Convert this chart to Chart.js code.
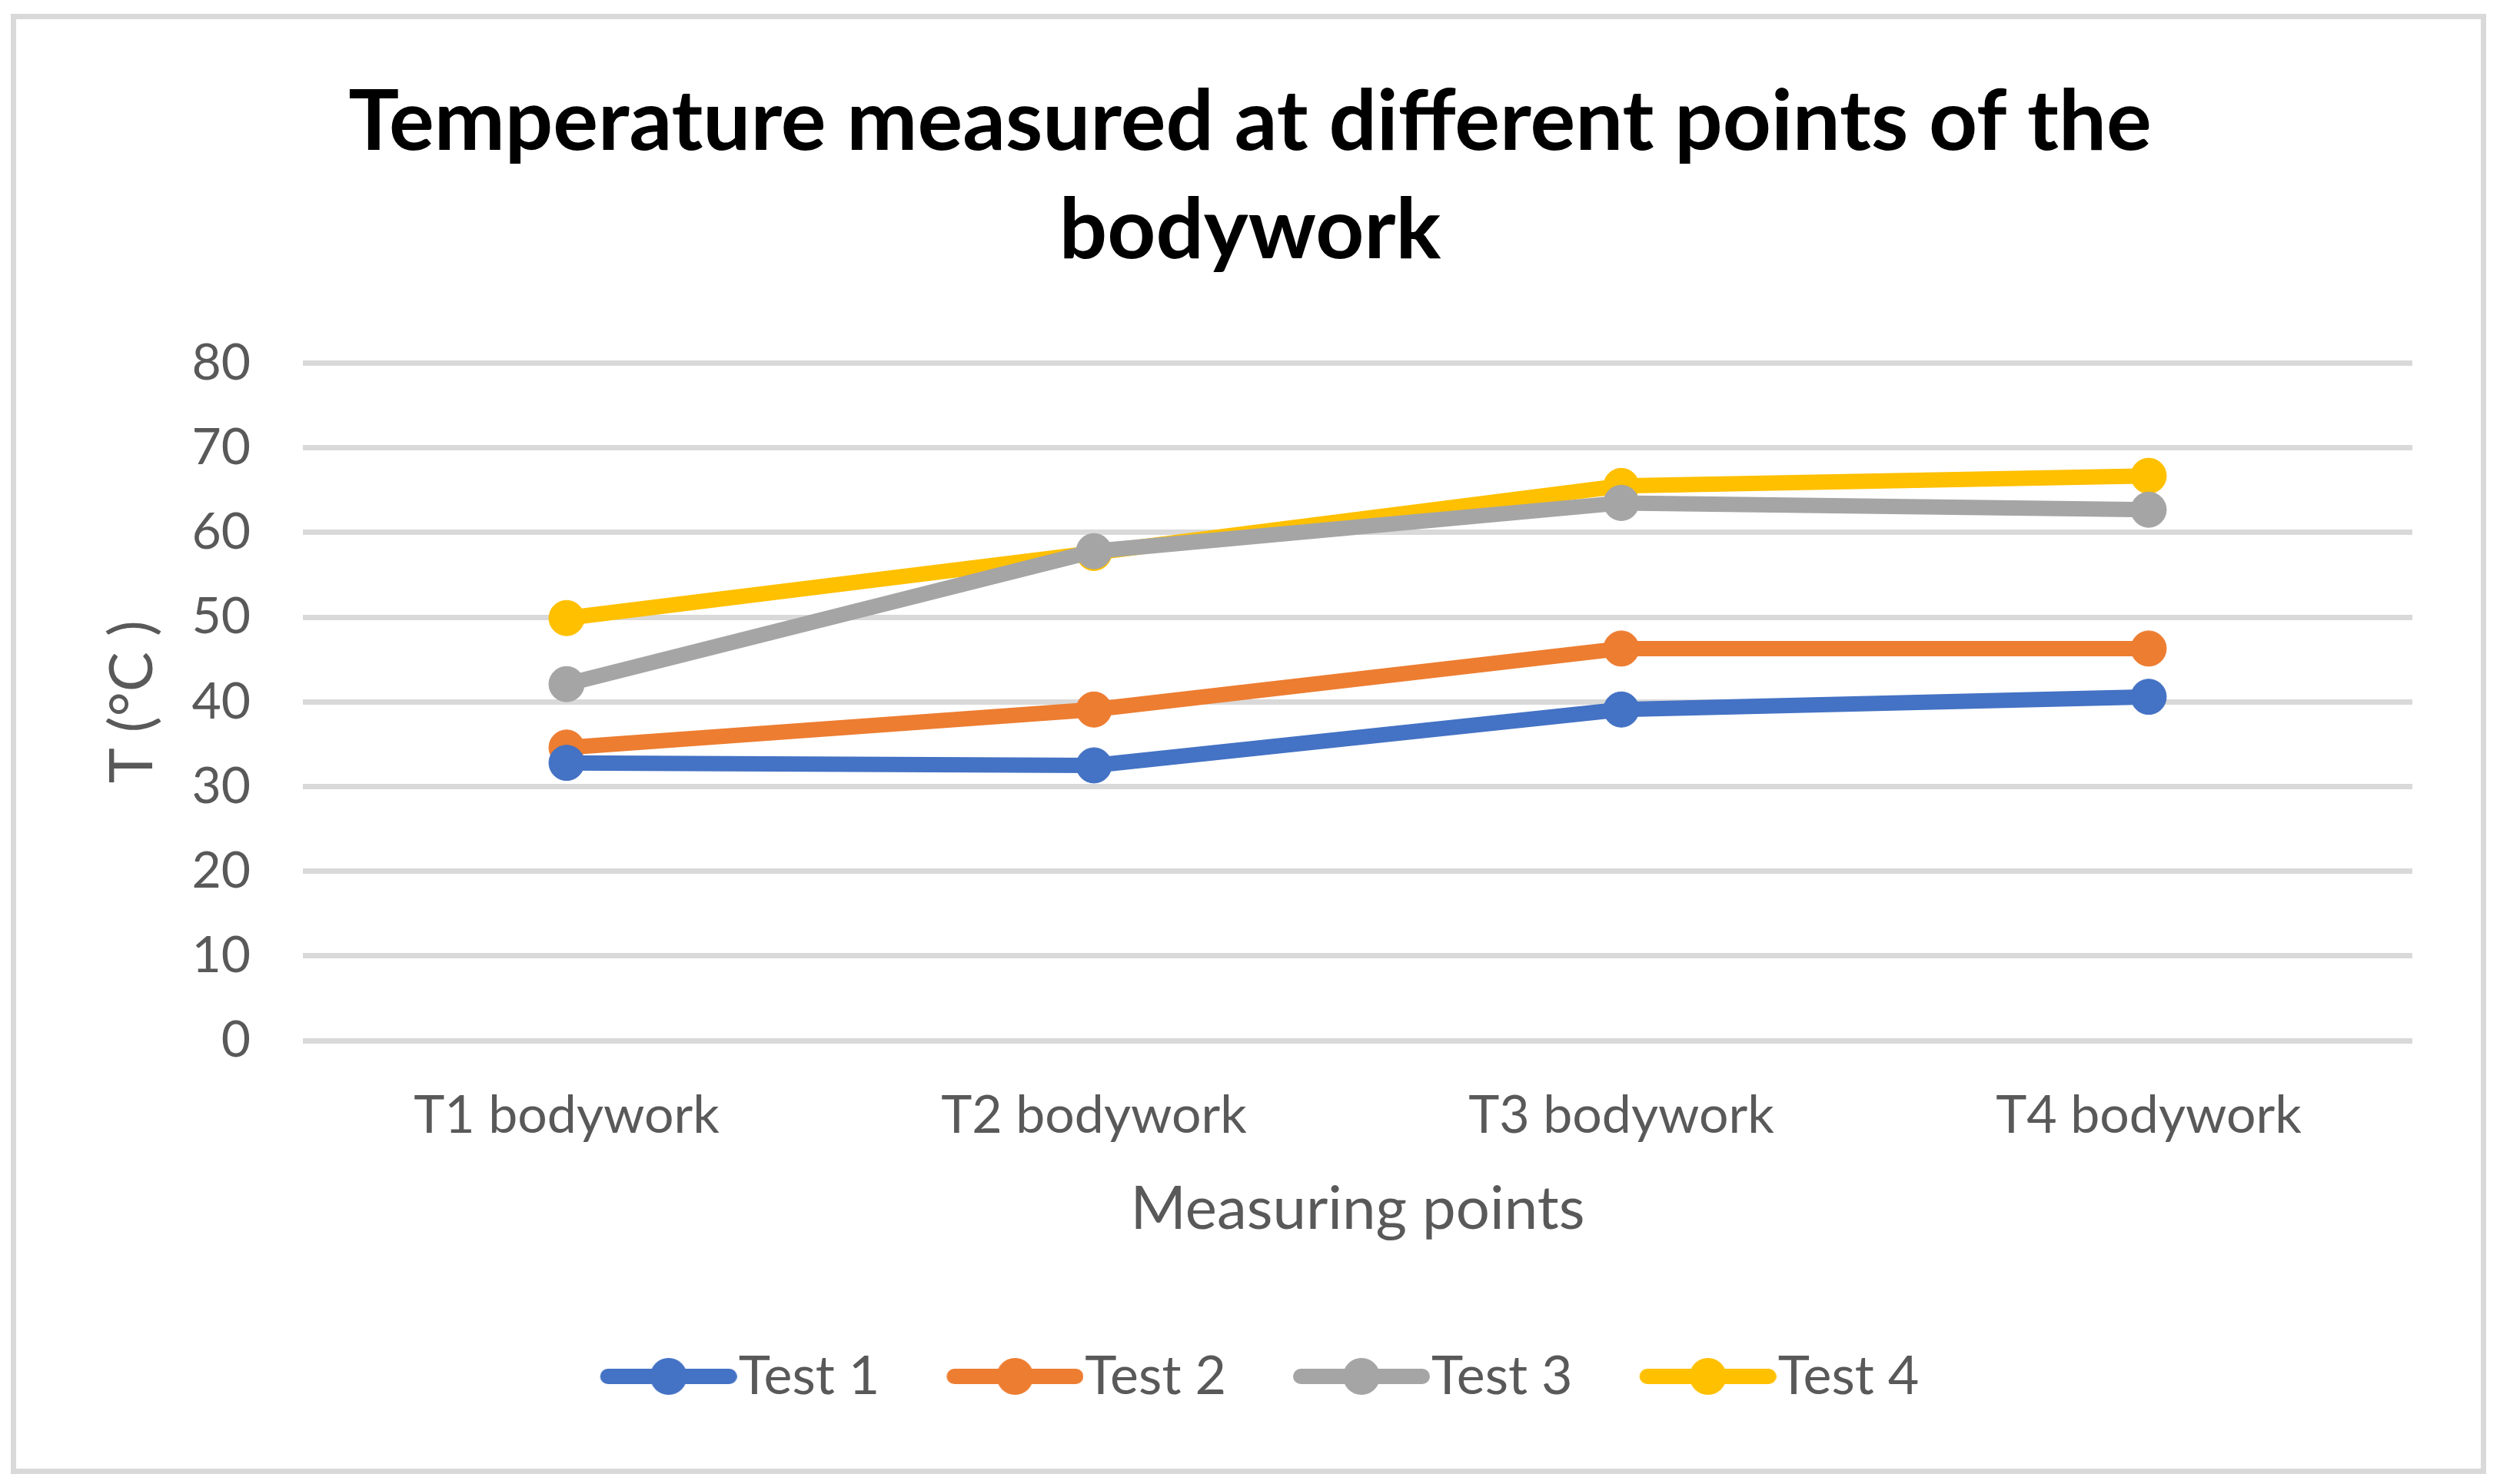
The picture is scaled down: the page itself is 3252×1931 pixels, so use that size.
<!DOCTYPE html>
<html>
<head>
<meta charset="utf-8">
<script src="https://cdn.jsdelivr.net/npm/chart.js@4"></script>
<style>
  html, body { margin: 0; padding: 0; background: #fff; }
  #wrap { position: relative; width: 3252px; height: 1931px; }
  #frame { position: absolute; left: 14px; top: 18px; width: 3206px; height: 1886px; border: 7px solid #d9d9d9; }
  #wrap canvas { position: absolute; left: 0; top: 0; }
</style>
</head>
<body>
<div id="wrap">
  <div id="frame"></div>
  <canvas id="mycanvas" width="3252" height="1931"></canvas>
</div>
<script>
// data
var points = ['T1 bodywork', 'T2 bodywork', 'T3 bodywork', 'T4 bodywork'];
var test1 = [32.8, 32.5, 39.1, 40.6];
var test2 = [34.6, 39.1, 46.3, 46.3];
var test3 = [42.1, 57.8, 63.5, 62.7];
var test4 = [49.9, 57.6, 65.5, 66.7];
var yTicks = [0, 10, 20, 30, 40, 50, 60, 70, 80];

var colors = ['#4472C4', '#ED7D31', '#A5A5A5', '#FFC000'];
var names = ['Test 1', 'Test 2', 'Test 3', 'Test 4'];
var series = [test1, test2, test3, test4];

var textGrey = '#595959';
var font = "Lato, 'Open Sans', sans-serif";

// legend symbol: line with a dot in the middle (blank strip on the left so it sits right)
function legendIcon(color) {
  var c = document.createElement('canvas');
  c.width = 236;
  c.height = 50;
  var g = c.getContext('2d');
  g.strokeStyle = color;
  g.lineWidth = 20;
  g.lineCap = 'round';
  g.beginPath();
  g.moveTo(68, 25);
  g.lineTo(226, 25);
  g.stroke();
  g.fillStyle = color;
  g.beginPath();
  g.arc(147, 25, 24, 0, Math.PI * 2);
  g.fill();
  return c;
}

var datasets = [];
for (var i = 0; i < series.length; i++) {
  datasets.push({
    label: names[i],
    data: series[i],
    borderColor: colors[i],
    backgroundColor: colors[i],
    borderWidth: 20,
    pointRadius: 23,
    pointHoverRadius: 23,
    pointBorderWidth: 1,
    pointBorderColor: colors[i],
    pointBackgroundColor: colors[i],
    tension: 0,
    fill: false
  });
}

var ctx = document.getElementById('mycanvas');
var LineGraph = new Chart(ctx, {
  type: 'line',
  data: { labels: points, datasets: datasets },
  options: {
    responsive: false,
    devicePixelRatio: 1,
    animation: false,
    events: [],
    layout: { padding: { left: 114, right: 114, top: 0, bottom: 95 } },
    plugins: {
      title: {
        display: true,
        text: ['Temperature measured at different points of the', 'bodywork'],
        color: '#000',
        font: { family: font, size: 110, weight: 'bold', lineHeight: 1.28 },
        padding: { top: 89, bottom: 102 }
      },
      legend: {
        position: 'bottom',
        labels: {
          usePointStyle: true,
          pointStyleWidth: 170,
          boxHeight: 50,
          padding: 62,
          color: textGrey,
          font: { family: font, size: 70 },
          generateLabels: function(chart) {
            return chart.data.datasets.map(function(ds, k) {
              return {
                text: ds.label,
                fillStyle: ds.borderColor,
                strokeStyle: ds.borderColor,
                fontColor: textGrey,
                lineWidth: 0,
                pointStyle: legendIcon(ds.borderColor),
                datasetIndex: k,
                hidden: false
              };
            });
          }
        }
      },
      tooltip: { enabled: false }
    },
    scales: {
      x: {
        offset: true,
        grid: { display: false, drawTicks: false },
        border: { display: false },
        ticks: { color: textGrey, font: { family: font, size: 68 }, padding: 57 },
        title: {
          display: true,
          text: 'Measuring points',
          color: textGrey,
          font: { family: font, size: 78 },
          padding: { top: 0, bottom: 73 }
        },
        afterFit: function(scale) { scale.height = 340; }
      },
      y: {
        min: 0,
        max: 80,
        afterBuildTicks: function(scale) {
          scale.ticks = yTicks.map(function(v) { return { value: v }; });
        },
        grid: { color: '#D9D9D9', lineWidth: 7, drawTicks: false },
        border: { display: false },
        ticks: { color: textGrey, font: { family: font, size: 66 }, padding: 68 },
        title: {
          display: true,
          text: 'T (°C )',
          color: textGrey,
          font: { family: font, size: 78 },
          padding: { top: 12, bottom: 0 }
        },
        afterFit: function(scale) { scale.width = 280; }
      }
    }
  }
});
</script>
</body>
</html>
